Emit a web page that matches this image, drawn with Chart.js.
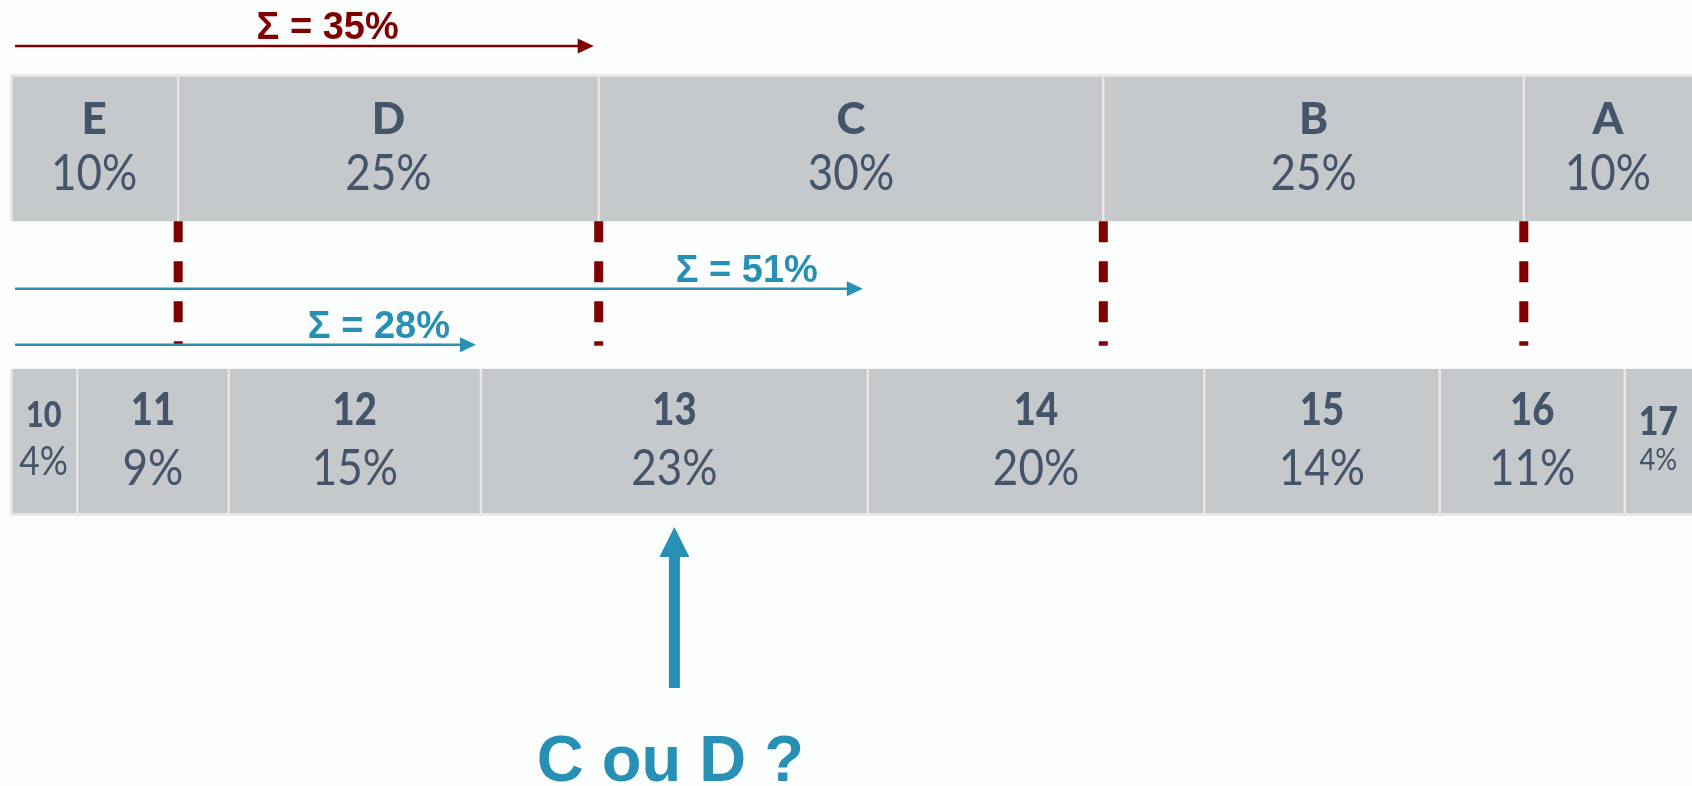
<!DOCTYPE html>
<html>
<head>
<meta charset="utf-8">
<script src="https://cdn.jsdelivr.net/npm/chart.js@4/dist/chart.umd.min.js"></script>
<style>
  html, body { margin: 0; padding: 0; background: #fcfdfd; }
  #wrap { width: 1692px; height: 786px; }
</style>
</head>
<body>
<div id="wrap"><canvas id="chart"></canvas></div>
<script>
// letter grades (top bar) and their share
var letters = ['E', 'D', 'C', 'B', 'A'];
var letterShare = [10, 25, 30, 25, 10];

// numeric grades (bottom bar) and their share
var grades = ['10', '11', '12', '13', '14', '15', '16', '17'];
var gradeShare = [4, 9, 15, 23, 20, 14, 11, 4];

// sum arrows: which bar, how many cells from the left
var sigmaBar = ['top', 'bottom', 'bottom'];
var sigmaCells = [2, 4, 3];

// the grade in question
var questionGrade = '13';
var questionText = 'C ou D ?';

var rows = ['lettres', '', 'notes'];

var GRAY = '#c6c9cc', EDGE = '#ebe8e4', INK = '#44546a', RED = '#7f0000', BLUE = '#2890b4';

function spans(arr) {
  var s = 0;
  return arr.map(function (v) { var a = s; s += v; return [a, s]; });
}
var topSpans = spans(letterShare);
var bottomSpans = spans(gradeShare);

var datasets = [];
letters.forEach(function (l, i) {
  datasets.push({
    label: l, share: letterShare[i], row: 0, cell: i, cells: letters.length,
    data: [topSpans[i], null, null],
    backgroundColor: GRAY, borderColor: EDGE, borderSkipped: false,
    borderWidth: { top: 3, bottom: 0, left: i === 0 ? 3 : 1.5, right: i === letters.length - 1 ? 0 : 1.5 }
  });
});
grades.forEach(function (g, i) {
  datasets.push({
    label: g, share: gradeShare[i], row: 2, cell: i, cells: grades.length,
    data: [null, null, bottomSpans[i]],
    backgroundColor: GRAY, borderColor: EDGE, borderSkipped: false,
    borderWidth: { top: 0, bottom: 3, left: i === 0 ? 3 : 1.5, right: i === grades.length - 1 ? 0 : 1.5 }
  });
});

// label look per cell
function cellStyle(ds) {
  if (ds.row === 2 && ds.cell === 0) return { nameSize: 36, nameY: 58, nameSx: 0.85, pctSize: 40, pctY: 106 };
  if (ds.row === 2 && ds.cell === ds.cells - 1) return { nameSize: 40, nameY: 66, nameSx: 0.85, pctSize: 31, pctY: 101 };
  if (ds.row === 2) return { nameSize: 45, nameY: 56, nameSx: 0.85, pctSize: 50, pctY: 116 };
  return { nameSize: 44, nameY: 60, nameSx: 1, pctSize: 50, pctY: 116 };
}

function squeezedText(ctx, txt, x, y, sx) {
  ctx.save();
  ctx.translate(x, y);
  ctx.scale(sx, 1);
  ctx.fillText(txt, 0, 0);
  ctx.restore();
}

var cellLabels = {
  id: 'cellLabels',
  afterDatasetsDraw: function (chart) {
    var ctx = chart.ctx;
    ctx.save();
    ctx.fillStyle = INK;
    ctx.textAlign = 'center';
    ctx.textBaseline = 'alphabetic';
    chart.data.datasets.forEach(function (ds, di) {
      var el = chart.getDatasetMeta(di).data[ds.row];
      var cx = (el.x + el.base) / 2;
      var top = el.y - el.height / 2;
      var st = cellStyle(ds);
      ctx.font = '900 ' + st.nameSize + 'px Lato';
      squeezedText(ctx, ds.label, cx, top + st.nameY, st.nameSx);
      ctx.font = '400 ' + st.pctSize + 'px Lato';
      squeezedText(ctx, ds.share + '%', cx, top + st.pctY, 0.88);
    });
    ctx.restore();
  }
};

function arrowRight(ctx, x0, x1, y, color) {
  ctx.strokeStyle = color;
  ctx.fillStyle = color;
  ctx.lineWidth = 2.5;
  ctx.beginPath();
  ctx.moveTo(x0, y);
  ctx.lineTo(x1 - 14, y);
  ctx.stroke();
  ctx.beginPath();
  ctx.moveTo(x1, y);
  ctx.lineTo(x1 - 16, y - 7.5);
  ctx.lineTo(x1 - 16, y + 7.5);
  ctx.closePath();
  ctx.fill();
}

var marks = {
  id: 'marks',
  afterDatasetsDraw: function (chart) {
    var ctx = chart.ctx;
    var xs = chart.scales.x;
    var topEl = chart.getDatasetMeta(0).data[0];
    var botEl = chart.getDatasetMeta(letters.length).data[2];
    var topBarBottom = topEl.y + topEl.height / 2;
    var topBarTop = topEl.y - topEl.height / 2;
    var botBarTop = botEl.y - botEl.height / 2;
    var botBarBottom = botEl.y + botEl.height / 2;
    ctx.save();

    // dashed dividers under the letter bar
    ctx.strokeStyle = RED;
    ctx.lineWidth = 9;
    ctx.setLineDash([21, 19]);
    topSpans.slice(0, -1).forEach(function (s) {
      var x = xs.getPixelForValue(s[1]);
      ctx.beginPath();
      ctx.moveTo(x, topBarBottom);
      ctx.lineTo(x, botBarTop - 23);
      ctx.stroke();
    });
    ctx.setLineDash([]);

    // sum arrows
    var look = [
      { y: topBarTop - 28, color: RED, gap: 195 },
      { y: botBarTop - 80, color: BLUE, gap: 45 },
      { y: botBarTop - 24, color: BLUE, gap: 26 }
    ];
    sigmaBar.forEach(function (bar, k) {
      var shares = bar === 'top' ? letterShare : gradeShare;
      var total = shares.slice(0, sigmaCells[k]).reduce(function (a, b) { return a + b; }, 0);
      var tip = xs.getPixelForValue(total) - 5;
      var lk = look[k];
      arrowRight(ctx, xs.left + 5, tip, lk.y, lk.color);
      ctx.fillStyle = lk.color;
      ctx.font = 'bold 38px "Liberation Sans", Arial';
      ctx.textAlign = 'right';
      ctx.textBaseline = 'alphabetic';
      ctx.fillText('\u03A3 = ' + total + '%', tip - lk.gap, lk.y - 7);
    });

    // question arrow
    var qi = grades.indexOf(questionGrade);
    var qx = xs.getPixelForValue((bottomSpans[qi][0] + bottomSpans[qi][1]) / 2);
    var y0 = botBarBottom + 11;
    ctx.fillStyle = BLUE;
    ctx.beginPath();
    ctx.moveTo(qx, y0);
    ctx.lineTo(qx + 15, y0 + 30);
    ctx.lineTo(qx + 5.5, y0 + 30);
    ctx.lineTo(qx + 5.5, y0 + 161);
    ctx.lineTo(qx - 5.5, y0 + 161);
    ctx.lineTo(qx - 5.5, y0 + 30);
    ctx.lineTo(qx - 15, y0 + 30);
    ctx.closePath();
    ctx.fill();
    ctx.font = 'bold 65px "Liberation Sans", Arial';
    ctx.textAlign = 'center';
    ctx.fillText(questionText, qx - 4, 781);

    ctx.restore();
  }
};

new Chart(document.getElementById('chart'), {
  type: 'bar',
  data: { labels: rows, datasets: datasets },
  options: {
    indexAxis: 'y',
    responsive: true,
    maintainAspectRatio: false,
    animation: false,
    events: [],
    layout: { padding: { top: 74, bottom: 270, left: 10, right: 0 } },
    datasets: { bar: { grouped: false, barPercentage: 1, categoryPercentage: 1 } },
    scales: {
      x: { type: 'linear', min: 0, max: 100, display: false },
      y: { display: false }
    },
    plugins: { legend: { display: false }, tooltip: { enabled: false } }
  },
  plugins: [cellLabels, marks]
});
</script>
</body>
</html>
